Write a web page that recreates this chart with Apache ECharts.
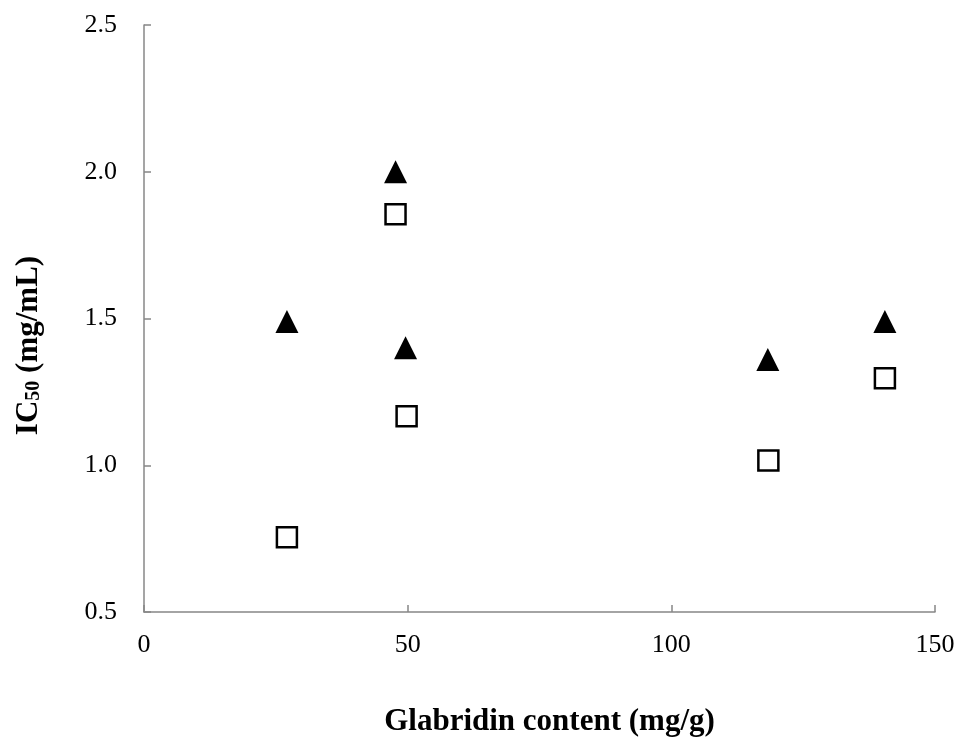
<!DOCTYPE html>
<html>
<head>
<meta charset="utf-8">
<script src="https://cdn.jsdelivr.net/npm/echarts@6/dist/echarts.min.js"></script>
<style>html,body{margin:0;padding:0;background:#fff}#c{width:961px;height:745px}</style>
</head>
<body>
<div id="c"></div>
<script>
const glabridin = [27.1, 47.7, 49.6, 118.3, 140.5];
const triangleIC50 = [1.49, 2.0, 1.40, 1.36, 1.49];
const squareGlabridin = [27.1, 47.7, 49.8, 118.4, 140.5];
const squareIC50 = [0.755, 1.855, 1.167, 1.016, 1.296];
const xTicks = [0, 50, 100, 150];
const yTicks = ['0.5', '1.0', '1.5', '2.0', '2.5'];

const chart = echarts.init(document.getElementById('c'), null, {renderer: 'canvas'});
const font = '"Liberation Serif", "Times New Roman", serif';
const axisLineStyle = {color: '#878787', width: 1.5};
chart.setOption({
  animation: false,
  backgroundColor: '#fff',
  grid: {left: 144, right: 26, top: 25, bottom: 133},
  xAxis: {
    type: 'value', min: xTicks[0], max: xTicks[xTicks.length - 1], interval: 50,
    splitLine: {show: false},
    axisLine: {show: true, lineStyle: axisLineStyle},
    axisTick: {show: true, inside: true, length: 7, lineStyle: axisLineStyle},
    axisLabel: {fontFamily: font, fontSize: 26, color: '#000', margin: 20},
    name: 'Glabridin content (mg/g)',
    nameLocation: 'middle', nameGap: 94,
    nameTextStyle: {fontFamily: font, fontSize: 31, fontWeight: 'bold', color: '#000', padding: [0, 0, 0, 20]}
  },
  yAxis: {
    type: 'value', min: 0.5, max: 2.5, interval: 0.5,
    splitLine: {show: false},
    axisLine: {show: true, lineStyle: axisLineStyle},
    axisTick: {show: true, inside: true, length: 7, lineStyle: axisLineStyle},
    axisLabel: {fontFamily: font, fontSize: 26, color: '#000', margin: 27,
      formatter: v => yTicks.find(t => Math.abs(parseFloat(t) - v) < 1e-6) || v.toFixed(1)},
    name: '{b|IC}{s|50}{b| (mg/mL)}',
    nameLocation: 'middle', nameGap: 100, nameRotate: 90,
    nameTextStyle: {
      fontFamily: font, fontSize: 31, fontWeight: 'bold', color: '#000',
      padding: [0, 54, 0, 0],
      rich: {
        b: {fontFamily: font, fontSize: 31, fontWeight: 'bold', color: '#000'},
        s: {fontFamily: font, fontSize: 20, fontWeight: 'bold', color: '#000', verticalAlign: 'bottom', padding: [10, 0, 0, 0]}
      }
    }
  },
  series: [
    {
      type: 'scatter', symbol: 'triangle', symbolSize: 23,
      itemStyle: {color: '#000', opacity: 1},
      data: glabridin.map((x, i) => [x, triangleIC50[i]])
    },
    {
      type: 'scatter', symbol: 'rect', symbolSize: 20,
      itemStyle: {color: '#fff', borderColor: '#000', borderWidth: 2.5, opacity: 1},
      data: squareGlabridin.map((x, i) => [x, squareIC50[i]])
    }
  ]
});
</script>
</body>
</html>
